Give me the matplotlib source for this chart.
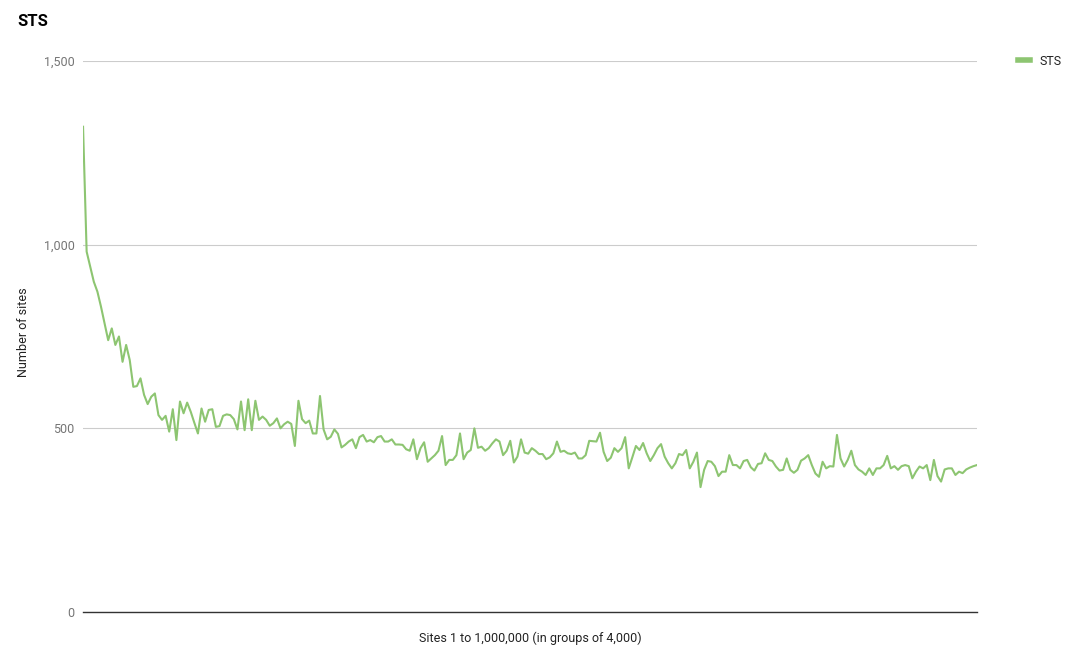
import matplotlib
matplotlib.use("Agg")
import matplotlib.pyplot as plt
from matplotlib.ticker import FuncFormatter

plt.rcParams['font.family'] = ['Roboto', 'DejaVu Sans']

# number of STS sites per group of 4,000 sites (250 groups)
sts_counts = [
    1321, 981, 940, 899, 872, 831, 786, 740, 772, 727,
    750, 681, 727, 686, 613, 615, 636, 591, 566, 586,
    595, 536, 523, 534, 491, 552, 468, 573, 541, 570,
    545, 515, 486, 554, 518, 550, 552, 504, 506, 534,
    538, 536, 525, 497, 573, 495, 579, 495, 575, 523,
    532, 523, 507, 514, 527, 500, 511, 518, 512, 452,
    575, 525, 514, 521, 486, 486, 588, 497, 470, 477,
    497, 485, 448, 455, 464, 470, 446, 476, 482, 464,
    468, 462, 476, 479, 464, 464, 470, 456, 456, 455,
    443, 439, 470, 416, 446, 462, 409, 418, 427, 439,
    479, 400, 414, 414, 427, 486, 416, 434, 441, 500,
    447, 450, 439, 446, 459, 470, 464, 427, 439, 466,
    407, 423, 470, 434, 431, 446, 439, 430, 430, 416,
    421, 432, 464, 436, 439, 432, 430, 434, 418, 418,
    427, 466, 465, 464, 488, 436, 411, 420, 446, 436,
    446, 476, 391, 421, 452, 441, 460, 432, 411, 427,
    446, 457, 423, 405, 391, 405, 430, 427, 441, 391,
    409, 434, 340, 387, 411, 409, 397, 370, 382, 382,
    427, 400, 400, 391, 411, 414, 394, 385, 403, 405,
    432, 414, 411, 396, 385, 387, 418, 387, 379, 387,
    412, 418, 427, 400, 377, 368, 409, 391, 397, 396,
    482, 418, 396, 414, 439, 400, 388, 382, 373, 391,
    373, 391, 391, 400, 425, 391, 397, 387, 397, 400,
    397, 364, 382, 396, 391, 400, 359, 414, 370, 355,
    388, 391, 391, 373, 382, 378, 388, 393, 397, 400,
]
groups = list(range(1, len(sts_counts) + 1))
y_ticks = [0, 500, 1000, 1500]

line_color = "#8dc571"
label_color = "#757575"

fig = plt.figure(figsize=(10.8, 6.65), dpi=100)
ax = fig.add_axes([0.0769, 0.0797, 0.8277, 0.8286])

ax.plot(groups, sts_counts, color=line_color, linewidth=1.5, label="STS")

ax.set_xlim(groups[0], groups[-1])
ax.set_ylim(0, 1500)
ax.set_yticks(y_ticks)
ax.yaxis.set_major_formatter(FuncFormatter(lambda v, p: f"{int(v):,}"))
ax.set_xticks([])
ax.tick_params(axis="y", length=0, labelsize=9, labelcolor=label_color, pad=6)
ax.grid(axis="y", color="#cccccc", linewidth=0.8)
ax.set_axisbelow(True)
for side in ["top", "right", "left"]:
    ax.spines[side].set_visible(False)
ax.spines["bottom"].set_color("#333333")
ax.spines["bottom"].set_linewidth(1.0)
ax.spines["bottom"].set_zorder(3)

ax.set_xlabel("Sites 1 to 1,000,000 (in groups of 4,000)", fontsize=9, color="#222222", labelpad=14)
fig.text(0.022, 0.5, "Number of sites", rotation=90, fontsize=9, color="#222222", va="center", ha="center")

fig.text(0.016, 0.967, "STS", fontsize=12, fontweight="bold", color="#000000", va="center", ha="left")

fig.legend(loc="center left", bbox_to_anchor=(0.932, 0.908), frameon=False, fontsize=9,
           handlelength=1.0, handletextpad=0.7, labelcolor="#222222")
for h in fig.legends[0].get_lines():
    h.set_linewidth(4)

fig.savefig("out.png", dpi=100)
